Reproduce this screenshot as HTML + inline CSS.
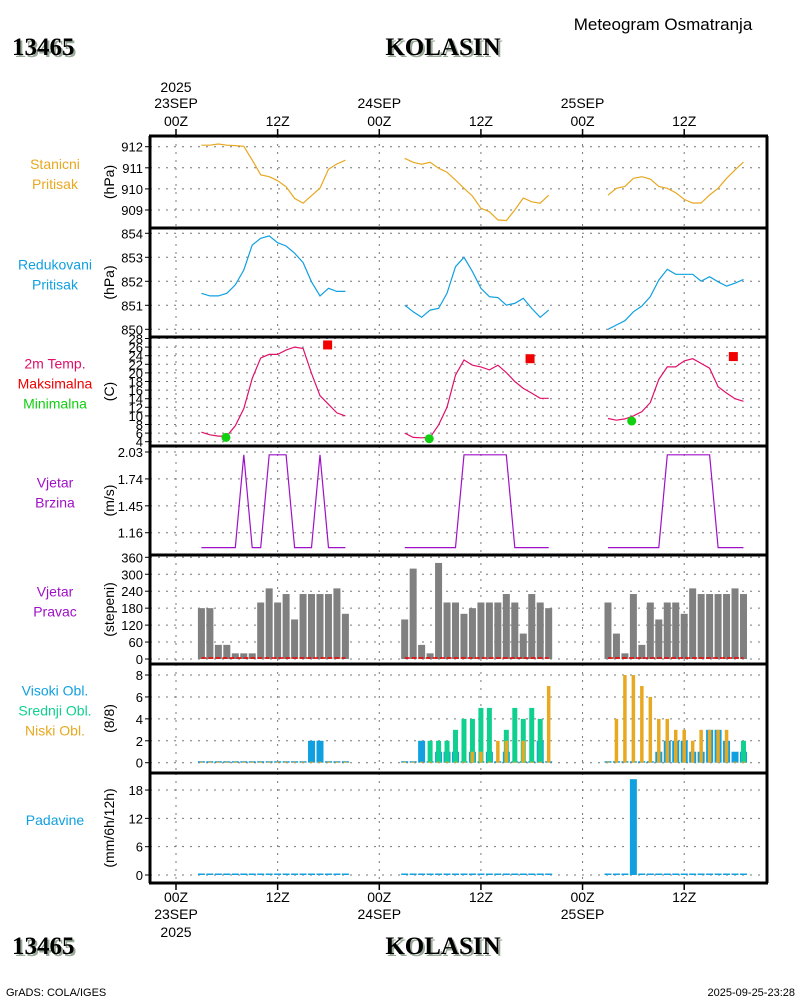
<!DOCTYPE html>
<html><head><meta charset="utf-8">
<style>
body{margin:0;background:#fff;}
svg{display:block;font-family:"Liberation Sans",sans-serif;}
</style></head>
<body>
<svg id="chart" width="800" height="1000" viewBox="0 0 800 1000">
<g id="static">
<text x="12" y="55" font-size="25" font-weight="bold" font-family="Liberation Serif, serif" fill="#000" style="text-shadow:2px 2px 0 #9a9">13465</text>
<text x="443" y="55" font-size="25" font-weight="bold" text-anchor="middle" font-family="Liberation Serif, serif" fill="#000" style="text-shadow:2px 2px 0 #9a9">KOLASIN</text>
<text x="663" y="30" font-size="17" text-anchor="middle">Meteogram Osmatranja</text>
<text x="12" y="954" font-size="25" font-weight="bold" font-family="Liberation Serif, serif" style="text-shadow:2px 2px 0 #9a9">13465</text>
<text x="443" y="954" font-size="25" font-weight="bold" text-anchor="middle" font-family="Liberation Serif, serif" style="text-shadow:2px 2px 0 #9a9">KOLASIN</text>
<text x="6" y="996" font-size="11">GrADS: COLA/IGES</text>
<text x="795" y="996" font-size="11" text-anchor="end">2025-09-25-23:28</text>
</g>
<g id="marks"></g>
</svg>
<script>
// ---- data ----
const dayStartHours = [3, 27, 51];
const stationPressure = [
 [912.07,912.07,912.13,912.07,912.05,912.02,911.37,910.67,910.58,910.39,910.1,909.55,909.32,909.68,910.04,910.93,911.18,911.36],
 [911.45,911.26,911.17,911.26,910.98,910.79,910.42,910.03,909.66,909.08,908.92,908.53,908.5,909.0,909.57,909.39,909.32,909.7],
 [909.7,910.03,910.12,910.5,910.58,910.47,910.12,910.03,909.82,909.5,909.33,909.33,909.71,910.03,910.5,910.9,911.27]];
const reducedPressure = [
 [851.5,851.39,851.39,851.5,851.85,852.47,853.51,853.79,853.89,853.61,853.47,853.17,852.78,851.98,851.39,851.71,851.58,851.58],
 [851.01,850.73,850.5,850.8,850.87,851.5,852.61,853.0,852.4,851.71,851.36,851.32,851.01,851.08,851.29,850.87,850.5,850.8],
 [850.0,850.18,850.36,850.73,850.97,851.36,852.05,852.5,852.29,852.29,852.29,852.01,852.19,851.98,851.8,851.92,852.08]];
const temperature = [
 [6.2,5.6,5.3,5.3,7.7,11.7,18.7,23.5,24.3,24.3,25.3,26.0,25.7,19.9,14.7,12.7,10.7,10.0],
 [6.0,5.0,4.9,5.0,7.9,12.0,19.5,23.0,21.8,21.4,20.7,21.8,20.1,18.0,16.4,15.3,14.1,14.1],
 [9.4,9.0,9.3,10.0,11.0,13.1,18.5,21.4,21.4,22.8,23.3,22.2,21.1,16.8,15.3,14.0,13.4]];
const maxTempHours = [17.9, 41.8, 65.8];
const maxTempValues = [26.5, 23.3, 23.8];
const minTempHours = [5.9, 29.9, 53.8];
const minTempValues = [5.0, 4.7, 8.8];
const windSpeed = [
 [1,1,1,1,1,2,1,1,2,2,2,1,1,1,2,1,1,1],
 [1,1,1,1,1,1,1,2,2,2,2,2,2,1,1,1,1,1],
 [1,1,1,1,1,1,1,2,2,2,2,2,2,1,1,1,1]];
const windDir = [
 [180,180,50,50,20,20,20,200,250,200,230,140,230,230,230,230,250,160],
 [140,320,50,20,340,200,200,160,180,200,200,200,230,200,90,230,200,180],
 [200,90,20,230,50,200,140,200,200,160,250,230,230,230,230,250,230]];
const highCloud = [
 [0,0,0,0,0,0,0,0,0,0,0,0,0,2,2,0,0,0],
 [0,0,2,0,1,1,1,0,1,0,1,0,1,0,0,0,2,0],
 [0,0,0,0,0,0,1,2,2,2,1,1,3,3,2,1,1]];
const midCloud = [
 [0,0,0,0,0,0,0,0,0,0,0,0,0,0,0,0,0,0],
 [0,0,0,2,2,2,3,4,4,5,5,0,3,5,4,5,4,0],
 [0,0,0,0,0,0,0,0,0,0,0,0,0,0,0,0,2]];
const lowCloud = [
 [0,0,0,0,0,0,0,0,0,0,0,0,0,0,0,0,0,0],
 [0,0,0,0,0,0,0,0,1,1,0,2,2,0,2,0,0,7],
 [0,4,8,8,7,6,4,4,3,3,2,3,3,3,3,0,0]];
const precip = [
 [0,0,0,0,0,0,0,0,0,0,0,0,0,0,0,0,0,0],
 [0,0,0,0,0,0,0,0,0,0,0,0,0,0,0,0,0,0],
 [0,0,0,20.3,0,0,0,0,0,0,0,0,0,0,0,0,0]];
const pressTicks = [909,910,911,912];
const redTicks = [850,851,852,853,854];
const tempTicks = [4,6,8,10,12,14,16,18,20,22,24,26,28];
const speedTicks = [1.16,1.45,1.74,2.03];
const dirTicks = [0,60,120,180,240,300,360];
const cloudTicks = [0,2,4,6,8];
const precipTicks = [0,6,12,18];

// ---- axes ----
const X0 = 150, X1 = 767;
const xH = h => 176 + h * 8.47;
const yP = v => 146.7 + (912 - v) * 21.1;
const yR = v => 233.3 + (854 - v) * 24;
const yT = v => 441.7 - (v - 4) * 4.3;
const yS = v => 452 + (2.03 - v) * 92.8;
const yD = v => 659 - v * 0.2825;
const yC = v => 762.7 - v * 10.96;
const yPr = v => 875 - v * 4.72;

const NS = 'http://www.w3.org/2000/svg';
const g = document.getElementById('marks');
function mk(tag, attrs, parent) {
  const e = document.createElementNS(NS, tag);
  for (const k in attrs) e.setAttribute(k, attrs[k]);
  (parent || g).appendChild(e);
  return e;
}
function txt(x, y, s, size, fill, anchor, parent) {
  const t = mk('text', {x: x, y: y, 'font-size': size, fill: fill, 'text-anchor': anchor || 'start'}, parent);
  t.textContent = s;
  return t;
}

const panels = [
  {top:136,bot:228,ticks:pressTicks,fy:yP,fmt:v=>String(v),name:'station-pressure',labels:[['Stanicni','#e8a820'],['Pritisak','#e8a820']],unit:'(hPa)'},
  {top:228,bot:337,ticks:redTicks,fy:yR,fmt:v=>String(v),name:'reduced-pressure',labels:[['Redukovani','#10a0e0'],['Pritisak','#10a0e0']],unit:'(hPa)'},
  {top:337,bot:446,ticks:tempTicks,fy:yT,fmt:v=>String(v),name:'temperature',labels:[['2m Temp.','#e0106a'],['Maksimalna','#f00000'],['Minimalna','#10d010']],unit:'(C)'},
  {top:446,bot:555,ticks:speedTicks,fy:yS,fmt:v=>v.toFixed(2),name:'wind-speed',labels:[['Vjetar','#a010c8'],['Brzina','#a010c8']],unit:'(m/s)'},
  {top:555,bot:664,ticks:dirTicks,fy:yD,fmt:v=>String(v),name:'wind-direction',labels:[['Vjetar','#a010c8'],['Pravac','#a010c8']],unit:'(stepeni)'},
  {top:664,bot:773,ticks:cloudTicks,fy:yC,fmt:v=>String(v),name:'cloud-cover',labels:[['Visoki Obl.','#10a0e0'],['Srednji Obl.','#10d090'],['Niski Obl.','#e8a820']],unit:'(8/8)'},
  {top:773,bot:883,ticks:precipTicks,fy:yPr,fmt:v=>String(v),name:'precipitation',labels:[['Padavine','#10a0e0']],unit:'(mm/6h/12h)'}
];
const gridHours = [0,12,24,36,48,60];

panels.forEach(p => {
  const pg = mk('g', {});
  
  
  gridHours.forEach(h => {
    const l = mk('line', {x1: xH(h), x2: xH(h), y1: p.top, y2: p.bot, stroke: '#777', 'stroke-width': 1, 'stroke-dasharray': '2,6'}, pg);
    
    
  });
  p.ticks.forEach(v => {
    const y = p.fy(v);
    const l = mk('line', {x1: X0, x2: X1, y1: y, y2: y, stroke: '#777', 'stroke-width': 1, 'stroke-dasharray': '2,6'}, pg);
    
    
    const tk = mk('line', {x1: X0 - 5, x2: X0, y1: y, y2: y, stroke: '#000', 'stroke-width': 1}, pg);
    
    
    const t = txt(143, y + 5, p.fmt(v), 13, '#000', 'end', pg);
    
    
  });
  const n = p.labels.length;
  const mid = (p.top + p.bot) / 2 - 8;
  p.labels.forEach((lb, i) => {
    const t = txt(55, mid + (i - (n - 1) / 2) * 20 + 5, lb[0], 14, lb[1], 'middle', pg);
    
    
  });
  const ux = 114, uy = (p.top + p.bot) / 2;
  const u = txt(0, 0, p.unit, 14, '#000', 'middle', pg);
  u.setAttribute('transform', 'translate(' + ux + ',' + uy + ') rotate(-90)');
  
  
});

function linePath(arr, fy, color, name) {
  arr.forEach((day, d) => {
    const pts = day.map((v, i) => xH(dayStartHours[d] + i).toFixed(1) + ',' + fy(v).toFixed(1)).join(' ');
    const l = mk('polyline', {points: pts, fill: 'none', stroke: color, 'stroke-width': 1.2});
    
    
  });
}
linePath(stationPressure, yP, '#e8a820', 'station-pressure-line');
linePath(reducedPressure, yR, '#10a0e0', 'reduced-pressure-line');
linePath(temperature, yT, '#e0106a', 'temperature-line');
linePath(windSpeed, yS, '#a010c8', 'wind-speed-line');

maxTempHours.forEach((h, i) => {
  const r = mk('rect', {x: xH(h) - 4.5, y: yT(maxTempValues[i]) - 4.5, width: 9, height: 9, fill: '#f00000'});
  
  
});
minTempHours.forEach((h, i) => {
  const c = mk('circle', {cx: xH(h), cy: yT(minTempValues[i]), r: 4.5, fill: '#10d010'});
  
  
});

function bars(arr, fy, color, w, name, zeroH) {
  arr.forEach((day, d) => {
    day.forEach((v, i) => {
      const x = xH(dayStartHours[d] + i);
      const y0 = fy(0);
      let y = fy(v);
      if (v === 0) { if (!zeroH) return; y = y0 - zeroH; }
      const r = mk('rect', {x: x - w / 2, y: y, width: w, height: y0 - y, fill: color});
      
      
    });
  });
}
bars(windDir, yD, '#808080', 7, 'wind-direction-bar', 0);
windDir.forEach((day, d) => {
  const l = mk('line', {x1: xH(dayStartHours[d]), x2: xH(dayStartHours[d] + day.length - 1), y1: yD(0) - 1, y2: yD(0) - 1, stroke: '#f00000', 'stroke-width': 1.5, 'stroke-dasharray': '5,2'});
  
  
});
bars(highCloud, yC, '#10a0e0', 7, 'high-cloud-bar', 1.5);
bars(midCloud, yC, '#10d090', 5, 'medium-cloud-bar', 0);
bars(lowCloud, yC, '#e8a820', 3.5, 'low-cloud-bar', 1);
bars(precip, yPr, '#10a0e0', 7, 'precipitation-bar', 1.5);

[136,228,337,446,555,664,773,883].forEach(y => {
  const l = mk('line', {x1: X0 - 1, x2: X1 + 1, y1: y, y2: y, stroke: '#000', 'stroke-width': 3});
  
  
});
[X0, X1].forEach(x => {
  const l = mk('line', {x1: x, x2: x, y1: 136, y2: 883, stroke: '#000', 'stroke-width': 3});
  
  
});
gridHours.forEach(h => {
  const a = mk('line', {x1: xH(h), x2: xH(h), y1: 129, y2: 136, stroke: '#000', 'stroke-width': 1.5});
  
  
  const b = mk('line', {x1: xH(h), x2: xH(h), y1: 883, y2: 890, stroke: '#000', 'stroke-width': 1.5});
  
  
});
const timeLabels = ['00Z','12Z','00Z','12Z','00Z','12Z'];
const dateLabels = {0:'23SEP',24:'24SEP',48:'25SEP'};
gridHours.forEach((h, i) => {
  const t1 = txt(xH(h), 126, timeLabels[i], 14, '#000', 'middle');
  
  
  const t2 = txt(xH(h), 902, timeLabels[i], 14, '#000', 'middle');
  
  
  if (dateLabels[h] !== undefined) {
    const d1 = txt(xH(h), 108, dateLabels[h], 14, '#000', 'middle');
    
    
    const d2 = txt(xH(h), 919, dateLabels[h], 14, '#000', 'middle');
    
    
  }
});
const y1 = txt(xH(0), 92, '2025', 14, '#000', 'middle');


const y2 = txt(xH(0), 937, '2025', 14, '#000', 'middle');


</script>
</body></html>
